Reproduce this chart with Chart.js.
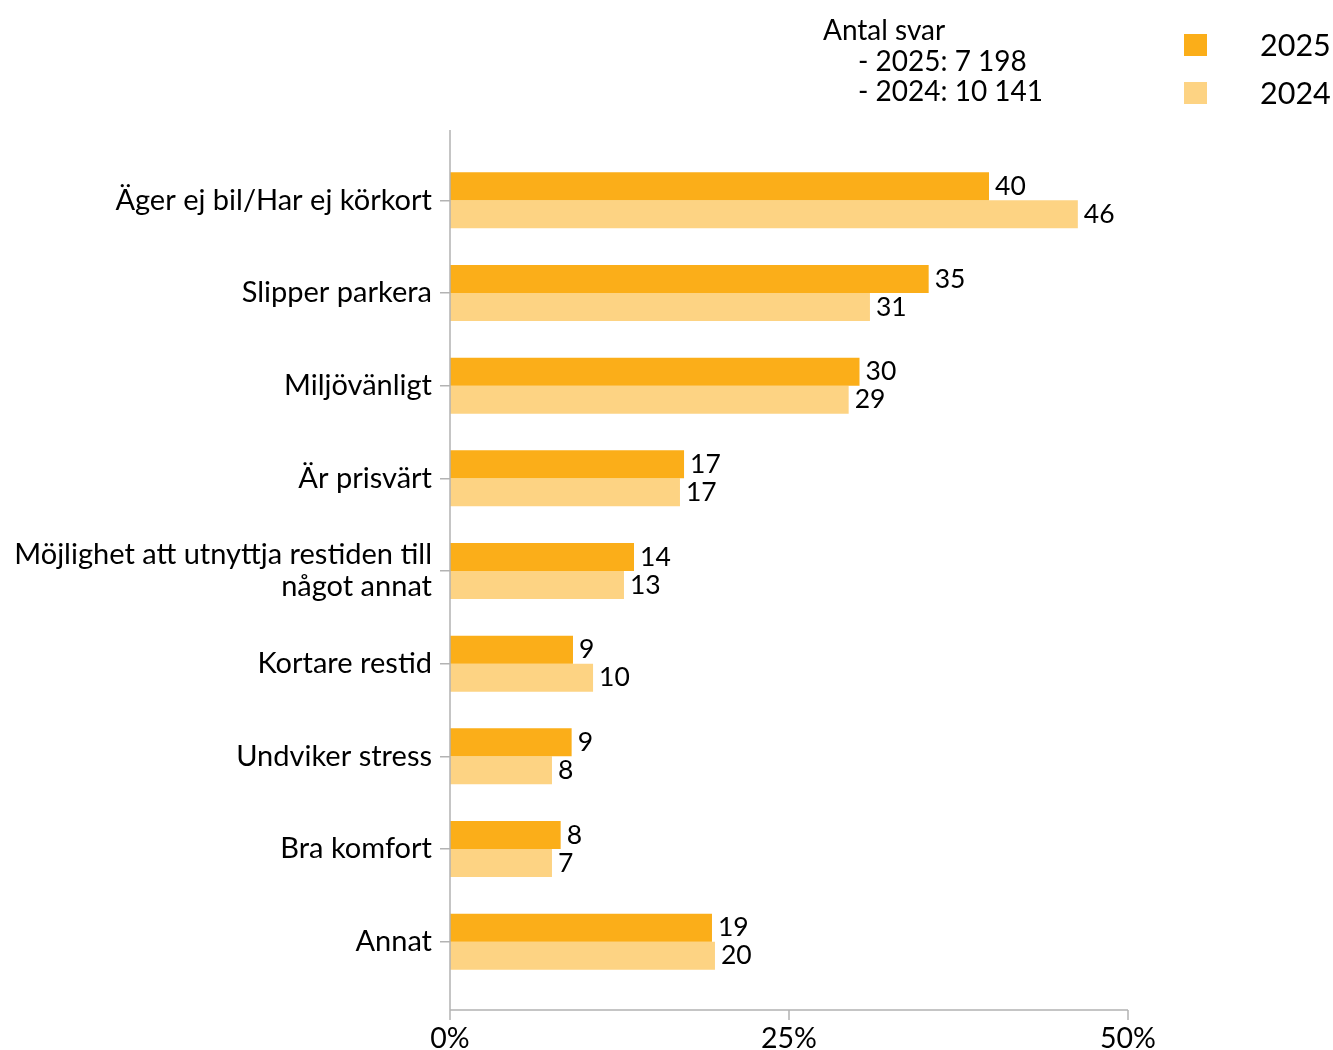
<!DOCTYPE html>
<html>
<head>
<meta charset="utf-8">
<script src="https://cdn.jsdelivr.net/npm/chart.js@4"></script>
<style>
  html, body { margin: 0; padding: 0; background: #fff; }
  #wrap { width: 1333px; height: 1050px; }
</style>
</head>
<body>
<div id="wrap"><canvas id="chart"></canvas></div>
<script>
const categories = [
    'Äger ej bil/Har ej körkort',
    'Slipper parkera',
    'Miljövänligt',
    'Är prisvärt',
    ['Möjlighet att utnyttja restiden till', 'något annat'],
    'Kortare restid',
    'Undviker stress',
    'Bra komfort',
    'Annat'
];
const values2025 = [39.75, 35.3, 30.2, 17.26, 13.57, 9.07, 8.97, 8.16, 19.32];
const values2024 = [46.3, 30.97, 29.4, 16.96, 12.83, 10.55, 7.52, 7.52, 19.54];
// printed values next to the bars
const shown2025 = [40, 35, 30, 17, 14, 9, 9, 8, 19];
const shown2024 = [46, 31, 29, 17, 13, 10, 8, 7, 20];
const xTicks = [0, 25, 50];
const noteTitle = 'Antal svar';
const noteLines = ['- 2025: 7 198', '- 2024: 10 141'];

const FONT = 'Lato, "Noto Sans", sans-serif';
const AXIS_GRAY = '#b3b3b3';

// value labels, custom legend, note and the extended axis lines
const decorPlugin = {
    id: 'decor',
    afterDatasetsDraw(chart) {
        const ctx = chart.ctx;
        const area = chart.chartArea;
        const xs = chart.scales.x;
        const printed = [shown2025, shown2024];

        ctx.save();
        ctx.font = '26.5px ' + FONT;
        ctx.fillStyle = '#000';
        ctx.textAlign = 'left';
        ctx.textBaseline = 'middle';
        chart.data.datasets.forEach((ds, i) => {
            chart.getDatasetMeta(i).data.forEach((bar, j) => {
                ctx.fillText(String(printed[i][j]), bar.x + 6, bar.y);
            });
        });

        // axis lines reach a bit beyond the category band
        ctx.strokeStyle = AXIS_GRAY;
        ctx.lineWidth = 1.5;
        const yTop = area.top - 24;
        const yBot = area.bottom + 22;
        ctx.beginPath();
        ctx.moveTo(area.left, yTop);
        ctx.lineTo(area.left, yBot);
        ctx.moveTo(area.left, yBot);
        ctx.lineTo(area.right, yBot);
        xTicks.forEach(t => {
            const px = xs.getPixelForValue(t);
            ctx.moveTo(px, yBot);
            ctx.lineTo(px, yBot + 10);
        });
        ctx.stroke();

        // note block
        ctx.font = '28px ' + FONT;
        ctx.fillStyle = '#000';
        ctx.fillText(noteTitle, 823, 31);
        noteLines.forEach((line, k) => {
            ctx.fillText(line, 858, 62 + k * 30);
        });

        // legend
        chart.data.datasets.forEach((ds, i) => {
            const cy = 45 + i * 48;
            ctx.fillStyle = ds.backgroundColor;
            ctx.fillRect(1184, cy - 11, 23, 22);
            ctx.fillStyle = '#000';
            ctx.font = '30.5px ' + FONT;
            ctx.fillText(ds.label, 1260, cy + 1);
        });
        ctx.restore();
    }
};

new Chart(document.getElementById('chart'), {
    type: 'bar',
    data: {
        labels: categories,
        datasets: [
            { label: '2025', data: values2025, backgroundColor: '#FBAE19' },
            { label: '2024', data: values2024, backgroundColor: '#FDD383' }
        ]
    },
    options: {
        indexAxis: 'y',
        responsive: true,
        maintainAspectRatio: false,
        animation: false,
        layout: { padding: { top: 154, right: 205, left: 0, bottom: 0 } },
        datasets: {
            bar: { barPercentage: 1, categoryPercentage: 0.604 }
        },
        plugins: {
            legend: { display: false },
            tooltip: { enabled: false }
        },
        scales: {
            x: {
                min: 0,
                max: 50,
                afterFit(scale) { scale.height = 62; },
                afterBuildTicks(scale) { scale.ticks = xTicks.map(v => ({ value: v })); },
                grid: { display: false },
                border: { display: false },
                ticks: {
                    padding: 26,
                    color: '#000',
                    font: { family: FONT, size: 28.5 },
                    maxRotation: 0,
                    callback: v => v + '%'
                }
            },
            y: {
                afterFit(scale) { scale.width = 450; },
                grid: {
                    offset: false,
                    drawOnChartArea: false,
                    tickLength: 10,
                    color: AXIS_GRAY,
                    lineWidth: 1.5
                },
                border: { display: false },
                ticks: {
                    padding: 8,
                    color: '#000',
                    font: { family: FONT, size: 29, lineHeight: 1.1 }
                }
            }
        }
    },
    plugins: [decorPlugin]
});
</script>
</body>
</html>
